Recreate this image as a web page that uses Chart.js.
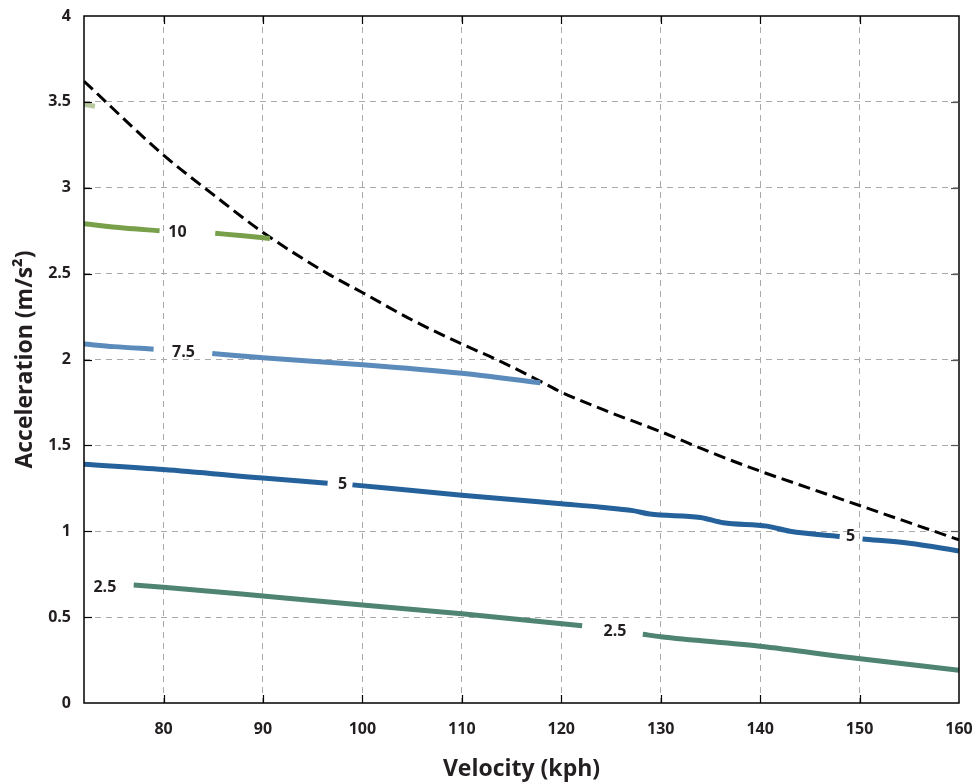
<!DOCTYPE html>
<html>
<head>
<meta charset="utf-8">
<script src="https://cdn.jsdelivr.net/npm/chart.js@4.4.1/dist/chart.umd.min.js"></script>
<style>
  html, body { margin: 0; padding: 0; background: #fff; }
  #wrap { width: 978px; height: 784px; }
</style>
</head>
<body>
<div id="wrap"><canvas id="accChart" width="978" height="784"></canvas></div>
<script>
// tick values
const xTicks = [80, 90, 100, 110, 120, 130, 140, 150, 160];
const yTicks = [0, 0.5, 1, 1.5, 2, 2.5, 3, 3.5, 4];

// limit envelope (dashed black)
const limitX = [72, 80, 85, 90, 96.5, 100, 105, 110, 113.5, 118, 120, 125, 130, 135, 140, 145, 150, 155, 160];
const limitY = [3.62, 3.19, 2.96, 2.74, 2.5, 2.39, 2.23, 2.09, 2.0, 1.87, 1.81, 1.69, 1.58, 1.46, 1.35, 1.25, 1.15, 1.05, 0.95];

// contour 12.5 (only a stub at the left edge)
const c125X = [72, 73.1];
const c125Y = [3.485, 3.475];

// contour 10 (null = gap for the label)
const c10X = [72, 76, 79.6, 81.4, 85.2, 88, 90.7];
const c10Y = [2.79, 2.765, 2.75, null, 2.735, 2.72, 2.705];

// contour 7.5
const c75X = [72, 75, 79, 82, 84.9, 90, 100, 110, 117.9];
const c75Y = [2.09, 2.075, 2.06, null, 2.035, 2.01, 1.97, 1.92, 1.865];

// contour 5
const c5X = [72, 80, 90, 96.5, 98, 99.0, 110, 118, 120, 124, 127.2, 128.9, 134, 136.3, 140.7, 143, 148, 149.1, 150.3, 155, 160];
const c5Y = [1.39, 1.36, 1.31, 1.28, null, 1.27, 1.21, 1.17, 1.16, 1.14, 1.12, 1.10, 1.08, 1.05, 1.03, 1.0, 0.97, null, 0.955, 0.93, 0.885];

// contour 2.5
const c25X = [77.0, 80, 90, 100, 110, 122.1, 125.4, 128.2, 130, 140, 149, 160];
const c25Y = [0.687, 0.674, 0.623, 0.57, 0.52, 0.45, null, 0.40, 0.386, 0.33, 0.265, 0.19];

// contour labels
const labelText = ['10', '7.5', '5', '5', '2.5', '2.5'];
const labelX = [81.4, 82.0, 98.0, 149.1, 74.1, 125.4];
const labelY = [2.74, 2.04, 1.27, 0.97, 0.675, 0.415];

const toPts = (xs, ys) => xs.map((x, i) => ({ x: x, y: ys[i] }));
const FONT = '"Open Sans", "DejaVu Sans", sans-serif';
const TEXT = '#231f20';

function line(data, color, width, dash) {
  return {
    data: data,
    borderColor: color,
    borderWidth: width,
    borderDash: dash || [],
    pointRadius: 0,
    fill: false,
    cubicInterpolationMode: 'monotone',
    spanGaps: false,
    borderCapStyle: 'butt'
  };
}

// draws the frame, inward ticks and the contour labels
const framePlugin = {
  id: 'frame',
  afterDatasetsDraw(chart) {
    const ctx = chart.ctx;
    const a = chart.chartArea;
    const xs = chart.scales.x, ys = chart.scales.y;
    ctx.save();
    ctx.strokeStyle = '#000';
    ctx.lineWidth = 1.5;
    ctx.setLineDash([]);
    ctx.strokeRect(a.left, a.top, a.right - a.left, a.bottom - a.top);
    ctx.lineWidth = 1.2;
    xTicks.slice(0, -1).forEach(v => {
      const px = Math.round(xs.getPixelForValue(v)) + 0.5;
      ctx.beginPath();
      ctx.moveTo(px, a.bottom); ctx.lineTo(px, a.bottom - 8);
      ctx.moveTo(px, a.top); ctx.lineTo(px, a.top + 8);
      ctx.stroke();
    });
    yTicks.slice(1, -1).forEach(v => {
      const py = Math.round(ys.getPixelForValue(v)) + 0.5;
      ctx.strokeStyle = '#000';
      ctx.beginPath();
      ctx.moveTo(a.left, py); ctx.lineTo(a.left + 8, py);
      ctx.stroke();
      ctx.strokeStyle = '#555';
      ctx.beginPath();
      ctx.moveTo(a.right, py); ctx.lineTo(a.right - 8, py);
      ctx.stroke();
    });
    ctx.fillStyle = TEXT;
    ctx.font = '700 16px ' + FONT;
    ctx.textAlign = 'center';
    ctx.textBaseline = 'middle';
    labelText.forEach((t, i) => {
      ctx.fillText(t, xs.getPixelForValue(labelX[i]), ys.getPixelForValue(labelY[i]));
    });
    ctx.restore();
  }
};

new Chart(document.getElementById('accChart'), {
  type: 'line',
  data: {
    datasets: [
      line(toPts(c25X, c25Y), '#4f8472', 5),
      line(toPts(c5X, c5Y), '#25619a', 5),
      line(toPts(c75X, c75Y), '#5b8bbb', 5),
      line(toPts(c10X, c10Y), '#78a04a', 5),
      line(toPts(c125X, c125Y), '#b8c9a0', 5),
      line(toPts(limitX, limitY), '#000000', 3, [12, 6])
    ]
  },
  options: {
    responsive: false,
    animation: false,
    events: [],
    layout: { padding: { left: 0, right: 19, top: 16, bottom: 0 } },
    plugins: {
      legend: { display: false },
      tooltip: { enabled: false }
    },
    scales: {
      x: {
        type: 'linear',
        min: 72,
        max: 160,
        afterBuildTicks: s => { s.ticks = xTicks.map(v => ({ value: v })); },
        afterFit: s => { s.height = 81; s.paddingLeft = 0; s.paddingRight = 0; },
        grid: {
          drawTicks: false,
          color: c => (c.tick && c.tick.value < 160) ? '#aaaaaa' : 'rgba(0,0,0,0)',
          lineWidth: 1
        },
        border: { display: false, dash: [6, 5] },
        ticks: {
          padding: 17,
          maxRotation: 0,
          color: TEXT,
          font: { family: FONT, size: 16, weight: '700' },
          callback: v => String(v)
        },
        title: {
          display: true,
          text: 'Velocity (kph)',
          color: TEXT,
          font: { family: FONT, size: 23, weight: '700' },
          padding: { top: 0, bottom: 1 }
        }
      },
      y: {
        type: 'linear',
        min: 0,
        max: 4,
        afterBuildTicks: s => { s.ticks = yTicks.map(v => ({ value: v })); },
        afterFit: s => { s.width = 84; s.paddingTop = 0; s.paddingBottom = 0; },
        grid: {
          drawTicks: false,
          color: c => (c.tick && c.tick.value > 0 && c.tick.value < 4) ? '#aaaaaa' : 'rgba(0,0,0,0)',
          lineWidth: 1
        },
        border: { display: false, dash: [6, 5] },
        ticks: {
          padding: 13,
          color: TEXT,
          font: { family: FONT, size: 16, weight: '700' },
          callback: v => String(v)
        },
        title: {
          display: true,
          text: 'Acceleration (m/s²)',
          color: TEXT,
          font: { family: FONT, size: 23, weight: '700' },
          padding: { top: 12, bottom: 0 }
        }
      }
    }
  },
  plugins: [framePlugin]
});
</script>
</body>
</html>
